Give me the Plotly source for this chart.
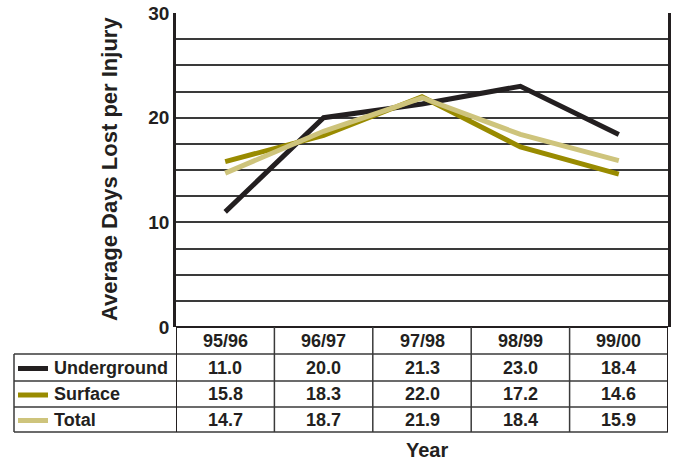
import plotly.graph_objects as go

# Data
years = ["95/96", "96/97", "97/98", "98/99", "99/00"]
underground = [11.0, 20.0, 21.3, 23.0, 18.4]
surface = [15.8, 18.3, 22.0, 17.2, 14.6]
total = [14.7, 18.7, 21.9, 18.4, 15.9]
series_names = ["Underground", "Surface", "Total"]
y_ticks = [0, 10, 20, 30]

series_values = [underground, surface, total]
series_colors = ["#231f20", "#998b00", "#cec47c"]

W, H = 674, 463
FONT = "Liberation Sans, Arial, sans-serif"
INK = "#231f20"
RULE = "#3a3a3a"


def px(x):
    return x / W


def py(y):
    return 1 - y / H


fig = go.Figure()
for name, vals, col in zip(series_names, series_values, series_colors):
    fig.add_trace(go.Scatter(
        x=years, y=vals, name=name, mode="lines",
        line=dict(color=col, width=5), showlegend=False,
        hoverinfo="skip",
    ))

# Table geometry (pixel rows)
header_top, header_bot = 327, 354
row_edges = [354, 381, 407, 432]
row_centers = [(row_edges[i] + row_edges[i + 1]) / 2 for i in range(3)]
label_left = 14
n = len(years)

shapes = []
# Header bottom / row separators across the full table width
for y in row_edges:
    shapes.append(dict(type="line", xref="paper", yref="paper",
                       x0=px(label_left), x1=px(668), y0=py(y), y1=py(y),
                       line=dict(color=RULE, width=1.5)))
# Top of the header row (plot baseline)
shapes.append(dict(type="line", xref="x", yref="paper",
                   x0=-0.5, x1=n - 0.5, y0=py(header_top), y1=py(header_top),
                   line=dict(color=INK, width=2)))
# Column separators
for i in range(n + 1):
    shapes.append(dict(type="line", xref="x", yref="paper",
                       x0=i - 0.5, x1=i - 0.5,
                       y0=py(header_top), y1=py(row_edges[-1]),
                       line=dict(color=RULE if 0 < i < n else INK,
                                 width=1.5 if 0 < i < n else 2)))
# Left edge of label column
shapes.append(dict(type="line", xref="paper", yref="paper",
                   x0=px(label_left), x1=px(label_left),
                   y0=py(row_edges[0]), y1=py(row_edges[-1]),
                   line=dict(color=RULE, width=1.5)))
# Legend swatches
for yc, col in zip(row_centers, series_colors):
    shapes.append(dict(type="line", xref="paper", yref="paper",
                       x0=px(18), x1=px(48), y0=py(yc + 1), y1=py(yc + 1),
                       line=dict(color=col, width=5)))

annotations = []
cell_font = dict(family=FONT, size=18, color=INK, weight="bold")
for i, yr in enumerate(years):
    annotations.append(dict(x=i, y=py((header_top + header_bot) / 2),
                            xref="x", yref="paper", text=yr, showarrow=False,
                            font=cell_font, xanchor="center", yanchor="middle"))
for yc, name, vals in zip(row_centers, series_names, series_values):
    annotations.append(dict(x=px(52), y=py(yc), xref="paper", yref="paper",
                            text=name, showarrow=False, font=cell_font,
                            xanchor="left", yanchor="middle"))
    for i, v in enumerate(vals):
        annotations.append(dict(x=i, y=py(yc), xref="x", yref="paper",
                                text=f"{v:.1f}", showarrow=False, font=cell_font,
                                xanchor="center", yanchor="middle"))
annotations.append(dict(x=px(427), y=py(450), xref="paper", yref="paper",
                        text="Year", showarrow=False,
                        font=dict(family=FONT, size=20, color=INK, weight="bold"),
                        xanchor="center", yanchor="middle"))
annotations.append(dict(x=px(109), y=py(169), xref="paper", yref="paper",
                        text="Average Days Lost per Injury", showarrow=False,
                        textangle=-90,
                        font=dict(family=FONT, size=22, color=INK, weight="bold"),
                        xanchor="center", yanchor="middle"))

fig.update_layout(
    width=W, height=H,
    margin=dict(l=0, r=0, t=0, b=0, pad=0, autoexpand=False),
    paper_bgcolor="white", plot_bgcolor="white",
    shapes=shapes, annotations=annotations,
    xaxis=dict(domain=[px(176), px(668)], range=[-0.5, n - 0.5],
               showticklabels=False, showgrid=False, zeroline=False,
               showline=False, fixedrange=True, automargin=False),
    yaxis=dict(domain=[py(327), py(13)], range=[0, 30],
               tickvals=y_ticks, ticks="", automargin=False,
               ticklabelstandoff=0,
               tickfont=dict(family=FONT, size=19, color=INK, weight="bold"),
               showgrid=True, gridcolor=RULE, gridwidth=1.5,
               minor=dict(dtick=2.5, showgrid=True, gridcolor=RULE, gridwidth=1.5),
               zeroline=False, showline=True, linecolor=INK, linewidth=2.5,
               mirror=True, fixedrange=True),
)

fig.write_html("out.html")
